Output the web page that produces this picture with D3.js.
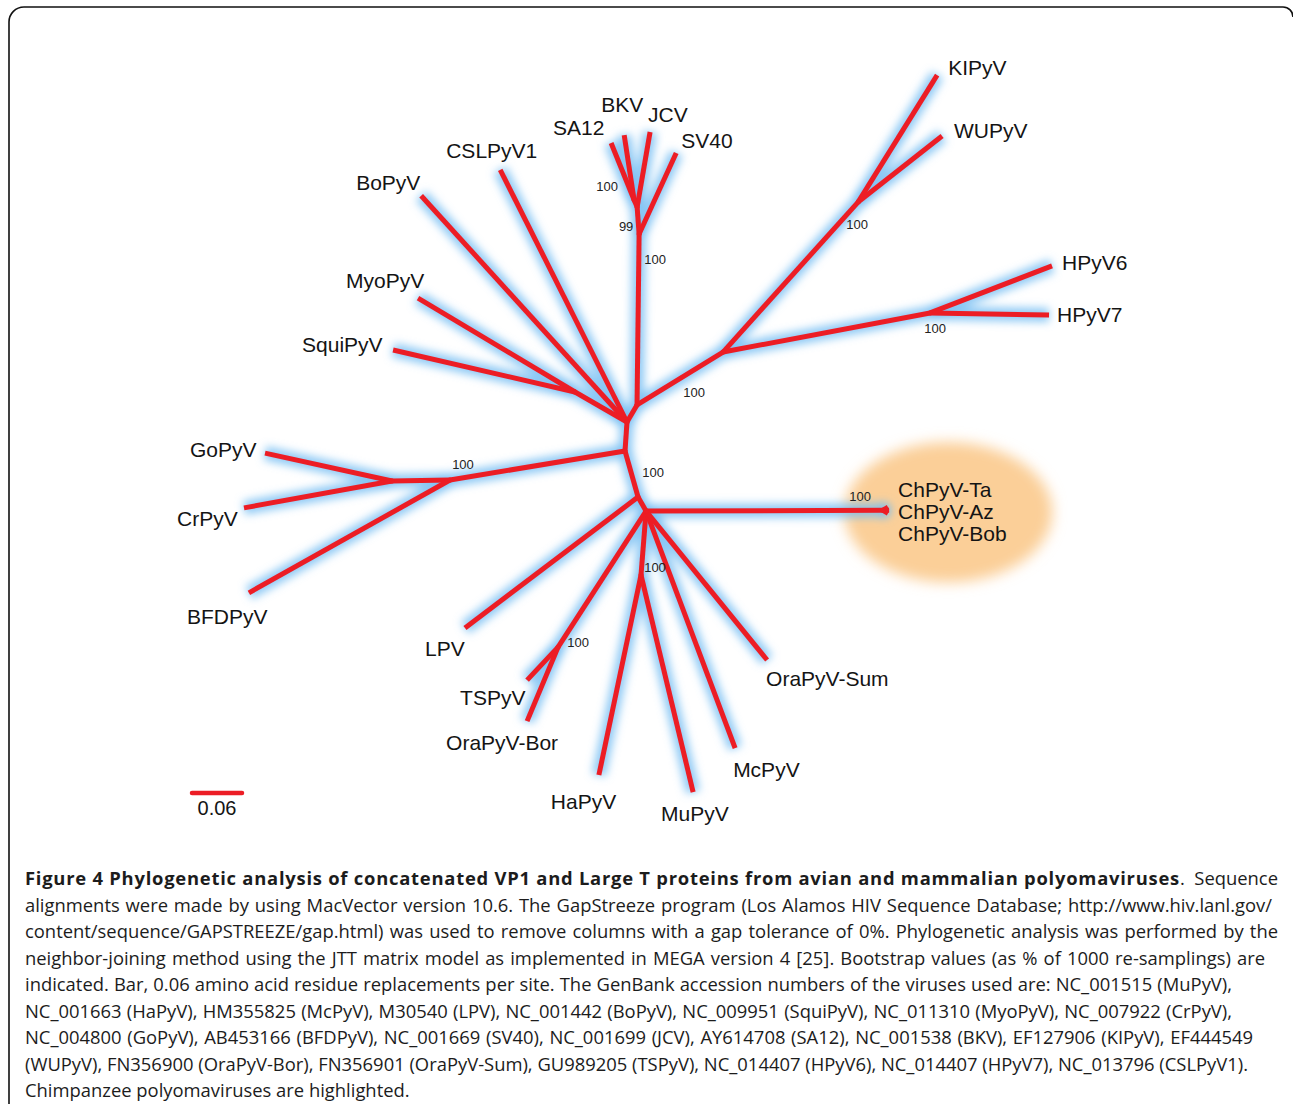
<!DOCTYPE html>
<html>
<head>
<meta charset="utf-8">
<style>
body { margin: 0; background: #fff; }
.tip { font-family: "Liberation Sans", Arial, sans-serif; font-size: 21px; fill: #141414; }
.boot { font-family: "Liberation Sans", Arial, sans-serif; font-size: 13px; fill: #222; }
.caption { font-family: "Open Sans", sans-serif; font-size: 18.4px; fill: #1c1c1c; }
.caption .b { font-weight: bold; }
</style>
<script src="https://d3js.org/d3.v7.min.js"></script>
</head>
<body>
<svg width="1293" height="1104"></svg>
<script>

// unrooted NJ tree: each node, its parent, branch length (aa subst./site)
// and the branch direction as drawn (degrees, counter-clockwise from east)
var nodeIds = ["A","B","P3","SV40","P2","JCV","P1","SA12","BKV","E","K","KIPyV","WUPyV","H6","HPyV6","HPyV7",
  "CSLPyV1","BoPyV","M","MyoPyV","SquiPyV","C","Bd","G","GoPyV","CrPyV","BFDPyV","L","LPV","D",
  "Ch","ChPyV-Ta","ChPyV-Az","ChPyV-Bob","T","TSPyV","OraPyV-Bor","H","HaPyV","MuPyV","McPyV","OraPyV-Sum"];
var parentIds = ["","A","B","P3","P3","P2","P2","P1","P1","B","E","K","K","E","H6","H6",
  "A","A","A","M","M","A","C","Bd","G","G","Bd","C","L","L",
  "D","Ch","Ch","Ch","D","T","T","D","H","H","D","D"];
var branchLengths = [0,0.0237,0.2052,0.1069,0.0325,0.0913,0.0091,0.0738,0.0789,0.1212,0.2422,0.1795,0.1282,0.2528,0.1569,0.1428,
  0.3386,0.3670,0.0720,0.2196,0.2241,0.0349,0.2129,0.0696,0.1560,0.1805,0.2767,0.0574,0.2604,0.0194,
  0.2844,0.0070,0.0072,0.0070,0.1944,0.0543,0.0963,0.0770,0.2453,0.2678,0.3038,0.2303];
var branchAngles = [0,59.5,89.3,65.4,94.2,80.2,113.2,112.0,98.7,31.6,48.0,58.1,38.2,10.7,21.1,-1.0,
  116.7,132.3,150.0,149.1,167.0,266.1,189.4,181.0,167.6,190.3,209.3,285.8,217.1,299.7,
  0.2,31,0,-31,237.1,226.8,247.3,265.5,258.1,283.5,290.6,309.1];

// bootstrap support (% of 1000 re-samplings)
var bootNodes = ["P1","P2","P3","K","H6","E","Bd","L","Ch","T","H"];
var bootValues = [100,99,100,100,100,100,100,100,100,100,100];

var highlighted = ["ChPyV-Ta","ChPyV-Az","ChPyV-Bob"];
var scaleBarValue = 0.06;

var captionBold = "Figure 4 Phylogenetic analysis of concatenated VP1 and Large T proteins from avian and mammalian polyomaviruses";
var captionLines = [
  ". Sequence",
  "alignments were made by using MacVector version 10.6. The GapStreeze program (Los Alamos HIV Sequence Database; http://www.hiv.lanl.gov/",
  "content/sequence/GAPSTREEZE/gap.html) was used to remove columns with a gap tolerance of 0%. Phylogenetic analysis was performed by the",
  "neighbor-joining method using the JTT matrix model as implemented in MEGA version 4 [25]. Bootstrap values (as % of 1000 re-samplings) are",
  "indicated. Bar, 0.06 amino acid residue replacements per site. The GenBank accession numbers of the viruses used are: NC_001515 (MuPyV),",
  "NC_001663 (HaPyV), HM355825 (McPyV), M30540 (LPV), NC_001442 (BoPyV), NC_009951 (SquiPyV), NC_011310 (MyoPyV), NC_007922 (CrPyV),",
  "NC_004800 (GoPyV), AB453166 (BFDPyV), NC_001669 (SV40), NC_001699 (JCV), AY614708 (SA12), NC_001538 (BKV), EF127906 (KIPyV), EF444549",
  "(WUPyV), FN356900 (OraPyV-Bor), FN356901 (OraPyV-Sum), GU989205 (TSPyV), NC_014407 (HPyV6), NC_014407 (HPyV7), NC_013796 (CSLPyV1).",
  "Chimpanzee polyomaviruses are highlighted."
];

// label placement (px, relative to tip / node)
var labelOffset = {
  "KIPyV":[11,-0.5], "WUPyV":[12,1.5], "HPyV6":[10,4.5], "HPyV7":[8,6.5],
  "ChPyV-Ta":[10,-10.5], "ChPyV-Az":[9,8.5], "ChPyV-Bob":[10,27.5],
  "OraPyV-Sum":[-1,25.5], "McPyV":[-2,28.5], "MuPyV":[-32,28.5], "HaPyV":[-48,33.5],
  "OraPyV-Bor":[-81,28.5], "TSPyV":[-67,24.5], "LPV":[-40,28.5], "BFDPyV":[-62,31.5],
  "CrPyV":[-67,18.5], "GoPyV":[-75,3.5], "SquiPyV":[-91,2.5], "MyoPyV":[-72,-10.5],
  "BoPyV":[-65,-5.5], "CSLPyV1":[-54,-11.5], "SA12":[-58,-7.5], "BKV":[-23,-23.5],
  "JCV":[-2,-10.5], "SV40":[5,-4.5]
};
var bootOffset = {
  "P1":[-27,-14], "P2":[-11,19], "P3":[16,25], "K":[-1,22], "H6":[5,16], "E":[-29,40],
  "Bd":[13,-16], "L":[15,-25], "Ch":[-23,-14], "T":[20,-5], "H":[14,-8]
};
// right edge of each caption line (justified block), bold run ends at 1180
var captionRight = [1278, 1272, 1278, 1265, 1232, 1232, 1253, 1248, null];

var svg = d3.select("svg"),
    width = +svg.attr("width"),
    height = +svg.attr("height");

var rootPx = [627, 422], pxPerBar = 50;
var x = d3.scaleLinear().domain([0, scaleBarValue]).range([rootPx[0], rootPx[0] + pxPerBar]);
var y = d3.scaleLinear().domain([0, scaleBarValue]).range([rootPx[1], rootPx[1] - pxPerBar]);

var rows = nodeIds.map(function(id, i) {
  return {id: id, parent: parentIds[i] || null, len: branchLengths[i], ang: branchAngles[i]};
});
var root = d3.stratify().id(function(d) { return d.id; }).parentId(function(d) { return d.parent; })(rows);

root.eachBefore(function(n) {
  if (!n.parent) { n.tx = 0; n.ty = 0; }
  else {
    var a = n.data.ang * Math.PI / 180;
    n.tx = n.parent.tx + n.data.len * Math.cos(a);
    n.ty = n.parent.ty + n.data.len * Math.sin(a);
  }
  n.px = x(n.tx);
  n.py = y(n.ty);
});

var byId = {};
root.each(function(n) { byId[n.id] = n; });

var defs = svg.append("defs");
defs.append("filter").attr("id", "glow").attr("x", "-20%").attr("y", "-20%").attr("width", "140%").attr("height", "140%")
  .append("feGaussianBlur").attr("stdDeviation", 4);
defs.append("filter").attr("id", "soft").attr("x", "-30%").attr("y", "-30%").attr("width", "160%").attr("height", "160%")
  .append("feGaussianBlur").attr("stdDeviation", 7);

// highlight for the chimpanzee viruses
var hl = highlighted.map(function(id) { return byId[id]; });
var hx = d3.mean(hl, function(n) { return n.px; }) + 60,
    hy = d3.mean(hl, function(n) { return n.py; }) + 2;
svg.append("ellipse")
    .attr("cx", hx).attr("cy", hy).attr("rx", 104).attr("ry", 70)
    .attr("fill", "#fbcf98")
    .attr("filter", "url(#soft)");

var links = root.links();

svg.append("g")
    .attr("filter", "url(#glow)")
  .selectAll("line")
  .data(links)
  .enter().append("line")
    .attr("x1", function(d) { return d.source.px; })
    .attr("y1", function(d) { return d.source.py; })
    .attr("x2", function(d) { return d.target.px; })
    .attr("y2", function(d) { return d.target.py; })
    .attr("stroke", "#74bdf3")
    .attr("stroke-opacity", 0.8)
    .attr("stroke-width", 14);

svg.append("g")
  .selectAll("line")
  .data(links)
  .enter().append("line")
    .attr("x1", function(d) { return d.source.px; })
    .attr("y1", function(d) { return d.source.py; })
    .attr("x2", function(d) { return d.target.px; })
    .attr("y2", function(d) { return d.target.py; })
    .attr("stroke", "#ec1d25")
    .attr("stroke-width", 5);

svg.append("g")
  .selectAll("circle")
  .data(root.descendants().filter(function(n) { return n.children; }))
  .enter().append("circle")
    .attr("cx", function(d) { return d.px; })
    .attr("cy", function(d) { return d.py; })
    .attr("r", 2.5)
    .attr("fill", "#ec1d25");

svg.append("g")
  .selectAll("text")
  .data(root.leaves())
  .enter().append("text")
    .attr("class", "tip")
    .attr("x", function(d) { return d.px + labelOffset[d.id][0]; })
    .attr("y", function(d) { return d.py + labelOffset[d.id][1]; })
    .text(function(d) { return d.id; });

svg.append("g")
  .selectAll("text")
  .data(bootNodes)
  .enter().append("text")
    .attr("class", "boot")
    .attr("text-anchor", "middle")
    .attr("dy", "0.35em")
    .attr("x", function(d) { return byId[d].px + bootOffset[d][0]; })
    .attr("y", function(d) { return byId[d].py + bootOffset[d][1]; })
    .text(function(d, i) { return bootValues[i]; });

// scale bar
var barLen = x(scaleBarValue) - x(0);
svg.append("line")
    .attr("x1", 192).attr("x2", 192 + barLen)
    .attr("y1", 793).attr("y2", 793)
    .attr("stroke", "#ec1d25").attr("stroke-width", 4.5).attr("stroke-linecap", "round");
svg.append("text")
    .attr("class", "tip")
    .attr("x", 192 + barLen / 2).attr("y", 815)
    .attr("text-anchor", "middle")
    .style("font-size", "20px")
    .text(scaleBarValue.toFixed(2));

// frame
svg.append("path")
    .attr("d", "M9,1104V22A15,15 0 0 1 24,7H1283A10,10 0 0 1 1293,17")
    .attr("fill", "none")
    .attr("stroke", "#111")
    .attr("stroke-width", 1.6);

// caption, justified by stretching word gaps
var capX = 25;
var cap = svg.append("g").attr("class", "caption");
captionLines.forEach(function(line, i) {
  var t = cap.append("text").attr("x", capX).attr("y", 885 + i * 26.5);
  var start = capX;
  if (i === 0) {
    var b = t.append("tspan").attr("class", "b").text(captionBold);
    var bw = b.node().getComputedTextLength();
    b.attr("letter-spacing", (1180 - capX - bw) / captionBold.length);
    start = 1180;
  }
  var s = t.append("tspan").text(line);
  if (captionRight[i]) {
    var w = s.node().getComputedTextLength();
    var gaps = (line.match(/ /g) || []).length;
    if (gaps) s.attr("word-spacing", (captionRight[i] - start - w) / gaps);
  }
});

</script>
</body>
</html>
